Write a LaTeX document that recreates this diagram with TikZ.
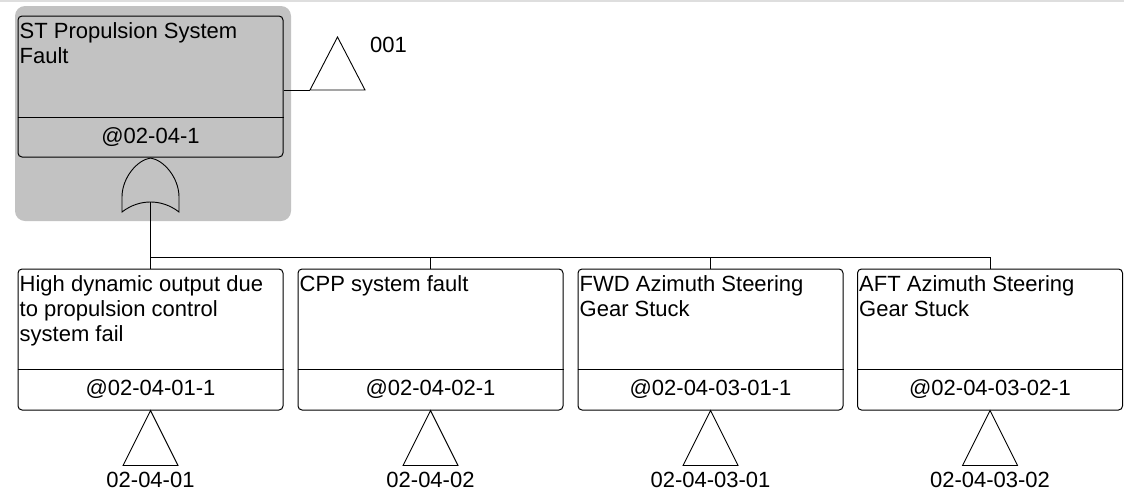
\documentclass[tikz,border=0pt]{standalone}
\usepackage{fontspec}
\setmainfont{Liberation Sans}
\usepackage{xcolor}
\usetikzlibrary{calc}
\definecolor{selgray}{RGB}{194,194,194}
\definecolor{rulegray}{RGB}{222,222,222}

\begin{document}
\begin{tikzpicture}[x=1pt, y=-1pt,
    event/.style={draw, line width=1pt, rounded corners=4pt, minimum width=265pt, minimum height=141pt, inner sep=0pt, fill=white},
    desc/.style={anchor=north west, align=left, inner sep=0pt},
    ident/.style={anchor=base, inner sep=0pt},
    wire/.style={line width=1pt},
    xfer/.style={line width=0.9pt, line join=miter},
    gate/.style={line width=0.9pt},
    font=\fontsize{22}{25}\selectfont]
\useasboundingbox (0,0) rectangle (1124,493);
\draw[rulegray, line width=2pt] (0,1) -- (1124,1);
\fill[selgray, rounded corners=10pt] (15,6) rectangle (291,221);

\node[event, fill=none] (top) at (150.5,86.5) {};
\node[desc] (top-txt) at ([xshift=2pt,yshift=-6.5pt]top.north west) {ST Propulsion System\\Fault};
\node[ident] (top-id) at ([yshift=14pt]top.south) {@02-04-1};
\draw[wire] ([yshift=40pt]top.south west) -- ([yshift=40pt]top.south east);

\coordinate (x0) at (310,90);
\draw[wire] (top.east |- x0) -- (x0);
\draw[xfer] (x0) -- ++(27.5,-53) -- ++(27.5,53) -- cycle;
\node[anchor=base west, inner sep=0pt] (x0-ref) at (370,52) {001};

\coordinate (gin) at (150.5,202);
\draw[gate] (150.5,158) .. controls (137,160) and (122,178) .. (122,197) -- (122,212)
    .. controls (131,205) and (141,202) .. (gin) .. controls (160,202) and (170,205) .. (179,212)
    -- (179,197) .. controls (179,178) and (164,160) .. (150.5,158) -- cycle;

\node[event] (c1) at (150.5,339.5) {};
\node[event] (c2) at (430.5,339.5) {};
\node[event] (c3) at (710.5,339.5) {};
\node[event] (c4) at (990,339.5) {};
\node[desc] (c1-txt) at ([xshift=2pt,yshift=-6.5pt]c1.north west) {High dynamic output due\\to propulsion control\\system fail};
\node[desc] (c2-txt) at ([xshift=2pt,yshift=-6.5pt]c2.north west) {CPP system fault};
\node[desc] (c3-txt) at ([xshift=2pt,yshift=-6.5pt]c3.north west) {FWD Azimuth Steering\\Gear Stuck};
\node[desc] (c4-txt) at ([xshift=2pt,yshift=-6.5pt]c4.north west) {AFT Azimuth Steering\\Gear Stuck};
\node[ident] (c1-id) at ([yshift=15pt]c1.south) {@02-04-01-1};
\node[ident] (c2-id) at ([yshift=15pt]c2.south) {@02-04-02-1};
\node[ident] (c3-id) at ([yshift=15pt]c3.south) {@02-04-03-01-1};
\node[ident] (c4-id) at ([yshift=15pt]c4.south) {@02-04-03-02-1};
\draw[wire] ([yshift=41pt]c1.south west) -- ([yshift=41pt]c1.south east);
\draw[wire] ([yshift=41pt]c2.south west) -- ([yshift=41pt]c2.south east);
\draw[wire] ([yshift=41pt]c3.south west) -- ([yshift=41pt]c3.south east);
\draw[wire] ([yshift=41pt]c4.south west) -- ([yshift=41pt]c4.south east);

\coordinate (bus) at (0,257);
\draw[wire] (gin) -- (c1.north);
\draw[wire] (c1.north |- bus) -- (c4.north |- bus);
\draw[wire] (c2.north |- bus) -- (c2.north);
\draw[wire] (c3.north |- bus) -- (c3.north);
\draw[wire] (c4.north |- bus) -- (c4.north);

\draw[xfer] (c1.south) -- ++(27.5,55) -- ++(-55,0) -- cycle;
\draw[xfer] (c2.south) -- ++(27.5,55) -- ++(-55,0) -- cycle;
\draw[xfer] (c3.south) -- ++(27.5,55) -- ++(-55,0) -- cycle;
\draw[xfer] (c4.south) -- ++(27.5,55) -- ++(-55,0) -- cycle;
\node[ident] (c1-ref) at ([yshift=-77pt]c1.south) {02-04-01};
\node[ident] (c2-ref) at ([yshift=-77pt]c2.south) {02-04-02};
\node[ident] (c3-ref) at ([yshift=-77pt]c3.south) {02-04-03-01};
\node[ident] (c4-ref) at ([yshift=-77pt]c4.south) {02-04-03-02};
\end{tikzpicture}
\end{document}
